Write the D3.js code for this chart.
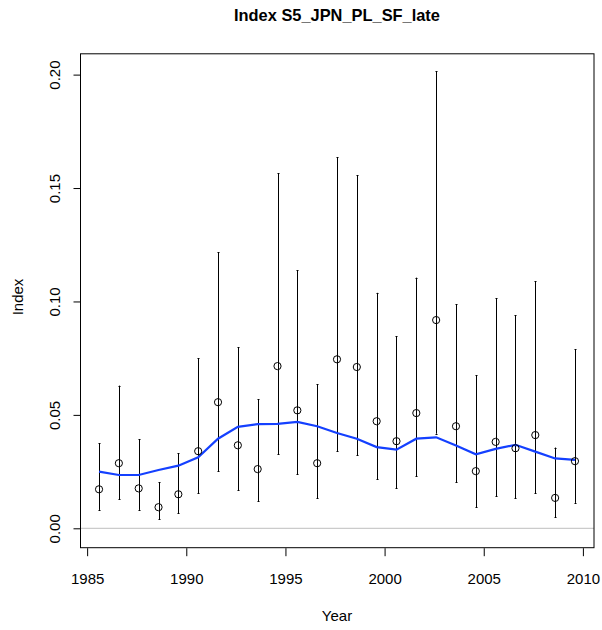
<!DOCTYPE html>
<html>
<head>
<meta charset="utf-8">
<script src="https://cdn.jsdelivr.net/npm/d3@7"></script>
<style>
  body { margin: 0; background: #fff; }
  text { font-family: "Liberation Sans", Arial, sans-serif; }
</style>
</head>
<body>
<div id="chart"></div>
<script>
var width = 602;
var height = 630;

// data
var years = [1985.6, 1986.6, 1987.6, 1988.6, 1989.6, 1990.6, 1991.6, 1992.6, 1993.6, 1994.6,
             1995.6, 1996.6, 1997.6, 1998.6, 1999.6, 2000.6, 2001.6, 2002.6, 2003.6, 2004.6,
             2005.6, 2006.6, 2007.6, 2008.6, 2009.6];
var obs = [0.0172, 0.0287, 0.0176, 0.0093, 0.0150, 0.0340, 0.0556, 0.0366, 0.0261, 0.0715,
           0.0520, 0.0287, 0.0745, 0.0711, 0.0472, 0.0384, 0.0508, 0.0918, 0.0450, 0.0252,
           0.0381, 0.0353, 0.0411, 0.0134, 0.0296];
var upper = [0.0375, 0.0629, 0.0392, 0.0203, 0.0331, 0.0750, 0.1217, 0.0798, 0.0569, 0.1566,
             0.1138, 0.0634, 0.1636, 0.1557, 0.1038, 0.0846, 0.1105, 0.2015, 0.0988, 0.0675,
             0.1015, 0.0939, 0.1089, 0.0356, 0.0790];
var lower = [0.0081, 0.0128, 0.0081, 0.0040, 0.0066, 0.0154, 0.0252, 0.0168, 0.0119, 0.0326,
             0.0238, 0.0132, 0.0340, 0.0322, 0.0216, 0.0177, 0.0229, 0.0417, 0.0202, 0.0092,
             0.0142, 0.0132, 0.0155, 0.0049, 0.0112];
var fitted = [0.0250, 0.0235, 0.0235, 0.0257, 0.0276, 0.0313, 0.0395, 0.0447, 0.0459, 0.0460,
              0.0469, 0.0450, 0.0420, 0.0395, 0.0358, 0.0347, 0.0395, 0.0401, 0.0365, 0.0326,
              0.0350, 0.0368, 0.0338, 0.0308, 0.0302];
var xTicks = [1985, 1990, 1995, 2000, 2005, 2010];
var yTicks = [0, 0.05, 0.10, 0.15, 0.20];

var plotLeft = 80, plotRight = 594, plotTop = 53.3, plotBottom = 547.7;

var x = d3.scaleLinear().domain([1984.64, 2010.56]).range([plotLeft, plotRight]);
var y = d3.scaleLinear().domain([-0.00855, 0.2094]).range([plotBottom, plotTop]);

var svg = d3.select("#chart")
    .append("svg")
    .attr("width", width)
    .attr("height", height);

// title
svg.append("text")
    .attr("x", (plotLeft + plotRight) / 2)
    .attr("y", 21)
    .attr("text-anchor", "middle")
    .style("font-weight", "bold")
    .style("font-size", "16.4px")
    .text("Index S5_JPN_PL_SF_late");

// zero reference line
svg.append("line")
    .attr("x1", plotLeft).attr("x2", plotRight)
    .attr("y1", y(0)).attr("y2", y(0))
    .style("stroke", "#bebebe")
    .style("stroke-width", 1);

// error bars
var bars = svg.append("g");
years.forEach(function (yr, i) {
    var cx = Math.round(x(yr)) + 0.5;
    bars.append("line")
        .attr("x1", cx).attr("x2", cx)
        .attr("y1", y(lower[i])).attr("y2", y(upper[i]))
        .style("stroke", "#000").style("stroke-width", 1);
    [upper[i], lower[i]].forEach(function (v) {
        bars.append("line")
            .attr("x1", cx - 1).attr("x2", cx + 1)
            .attr("y1", Math.round(y(v)) + 0.5).attr("y2", Math.round(y(v)) + 0.5)
            .style("stroke", "#000").style("stroke-width", 1);
    });
});

// fitted line
var line = d3.line()
    .x(function (d, i) { return x(years[i]); })
    .y(function (d) { return y(d); });

svg.append("path")
    .datum(fitted)
    .attr("d", line)
    .style("fill", "none")
    .style("stroke", "#1440ff")
    .style("stroke-width", 2.2);

// observed points
svg.append("g").selectAll("circle")
    .data(obs)
    .enter()
    .append("circle")
    .attr("cx", function (d, i) { return x(years[i]); })
    .attr("cy", function (d) { return y(d); })
    .attr("r", 3.6)
    .style("fill", "none")
    .style("stroke", "#000")
    .style("stroke-width", 1);

// box
svg.append("rect")
    .attr("x", plotLeft + 0.5).attr("y", plotTop + 0.5)
    .attr("width", plotRight - plotLeft - 0.5).attr("height", plotBottom - plotTop - 0.5)
    .style("fill", "none")
    .style("stroke", "#000")
    .style("stroke-width", 1);

// x axis
var xAxis = d3.axisBottom(x)
    .tickValues(xTicks)
    .tickSize(8)
    .tickFormat(d3.format("d"));

var gx = svg.append("g")
    .attr("transform", "translate(0," + (plotBottom + 0.5) + ")")
    .call(xAxis);
gx.select(".domain").remove();
gx.selectAll("line").style("stroke", "#000");
gx.selectAll("text")
    .attr("dy", 0)
    .attr("y", 36)
    .style("font-size", "15px")
    .style("font-family", "'Liberation Sans', Arial, sans-serif")
    .style("fill", "#000");

// y axis
var yAxis = d3.axisLeft(y)
    .tickValues(yTicks)
    .tickSize(7)
    .tickFormat(d3.format(".2f"));

var gy = svg.append("g")
    .attr("transform", "translate(" + (plotLeft + 0.5) + ",0)")
    .call(yAxis);
gy.select(".domain").remove();
gy.selectAll("line").style("stroke", "#000");
gy.selectAll("text")
    .attr("x", null).attr("dy", null)
    .attr("transform", "translate(-20.5,0) rotate(-90)")
    .attr("text-anchor", "middle")
    .style("font-size", "15px")
    .style("font-family", "'Liberation Sans', Arial, sans-serif")
    .style("fill", "#000");

// axis titles
svg.append("text")
    .attr("x", (plotLeft + plotRight) / 2)
    .attr("y", 621)
    .attr("text-anchor", "middle")
    .style("font-size", "15px")
    .text("Year");

svg.append("text")
    .attr("transform", "translate(22.5,297) rotate(-90)")
    .attr("text-anchor", "middle")
    .style("font-size", "15px")
    .text("Index");
</script>
</body>
</html>
